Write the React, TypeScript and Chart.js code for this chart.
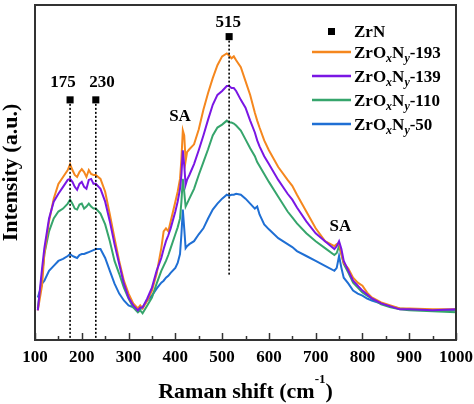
import { useEffect, useRef } from "react";
import { Chart, registerables } from "chart.js";

Chart.register(...registerables);

const FONT = "'Liberation Serif', 'Times New Roman', serif";

// Raman shift (cm-1) sample positions
const ramanShift = [
  106, 115, 120, 130, 140, 150, 160, 170, 175, 180, 185, 190, 195, 200, 205, 210, 215, 220, 225, 230,
  240, 250, 260, 270, 280, 290, 300, 310, 320, 325, 330, 340, 350, 360, 370, 375, 380, 385, 390, 400,
  405, 410, 413, 416, 419, 422, 425, 430, 440, 450, 460, 470, 480, 490, 500, 510, 515, 520, 525, 530,
  540, 550, 560, 570, 575, 580, 590, 600, 620, 640, 650, 660, 680, 700, 720, 740, 745, 750, 755, 760,
  770, 780, 790, 800, 810, 820, 840, 860, 880, 900, 950, 1000,
];

// Intensity (a.u.)
const zrox193 = [
  30, 55, 87, 120, 143, 158, 165, 172, 178, 172, 167, 165, 170, 173, 170, 165, 172, 168, 167, 167,
  163, 150, 127, 103, 80, 60, 47, 37, 32, 35, 32, 40, 50, 67, 93, 110, 113, 110, 120, 140,
  150, 163, 183, 212, 207, 181, 190, 193, 198, 213, 233, 250, 265, 278, 287, 290, 288, 285, 287, 283,
  276, 262, 248, 230, 222, 215, 202, 192, 175, 162, 156, 147, 130, 113, 100, 95, 97, 98, 87, 78,
  72, 63, 58, 55, 48, 43, 38, 35, 32, 32, 31, 31,
];
const zrox139 = [
  30, 72, 93, 123, 140, 148, 155, 162, 163, 160, 155, 152, 158, 160, 155, 153, 162, 163, 158, 158,
  153, 140, 120, 97, 77, 57, 43, 35, 30, 33, 33, 42, 53, 70, 83, 92, 100, 106, 113, 130,
  140, 153, 167, 192, 177, 157, 162, 167, 178, 192, 207, 223, 238, 248, 252, 257, 257, 255, 255, 252,
  243, 235, 222, 210, 202, 196, 186, 178, 162, 148, 142, 134, 120, 108, 100, 92, 95, 100, 92, 80,
  70, 60, 55, 50, 46, 42, 37, 34, 31, 31, 30, 31,
];
const zrox110 = [
  32, 65, 87, 110, 123, 130, 133, 138, 142, 138, 133, 132, 137, 138, 133, 135, 138, 135, 133, 133,
  128, 117, 100, 80, 67, 53, 42, 33, 28, 30, 27, 35, 43, 57, 70, 75, 80, 86, 93, 107,
  114, 123, 140, 163, 150, 135, 138, 143, 153, 167, 180, 193, 207, 215, 218, 222, 220, 220, 219, 217,
  212, 203, 194, 186, 180, 176, 168, 160, 145, 130, 124, 118, 108, 100, 93, 86, 88, 95, 87, 77,
  68, 58, 53, 48, 45, 42, 36, 33, 31, 30, 29, 28,
];
const zrox50 = [
  43, 57, 60, 70, 75, 80, 82, 85, 87, 85, 84, 83, 86, 87, 87, 88, 89, 90, 91, 92,
  92, 83, 70, 57, 47, 40, 35, 33, 32, 31, 33, 40, 45, 52, 58, 60, 63, 65, 68, 73,
  78, 87, 107, 132, 113, 93, 95, 97, 100, 107, 113, 123, 132, 138, 143, 147, 146, 147, 147, 148,
  147, 143, 138, 133, 135, 127, 117, 112, 103, 97, 94, 90, 85, 80, 75, 70, 73, 85, 73, 63,
  57, 50, 47, 45, 42, 40, 37, 34, 32, 31, 30, 30,
];

const seriesNames = ["193", "139", "110", "50"];
const seriesColors = ["#F5871E", "#7A16E4", "#36A56C", "#1F6FD4"];
const seriesOrder = [1, 0, 2, 3];

// ZrN reference peaks
const zrnPeaks = [175, 230, 515];
const zrnMarkY = [243, 243, 307];
const zrnLineEnd = [0, 0, 65];
const zrnLabelX = [160, 243, 513];
const zrnLabelY = [260, 260, 321];

// SA annotations
const saX = [410, 753];
const saY = [226, 115];

const xTicksMin = 100;
const xTicksMax = 1000;

export default function App() {
  const ref = useRef<HTMLCanvasElement>(null);

  useEffect(() => {
    document.body.style.margin = "0";
    const canvas = ref.current;
    if (!canvas) return;
    const allSeries = [zrox193, zrox139, zrox110, zrox50];

    const datasets: any[] = allSeries.map((vals, i) => ({
      type: "line",
      label: "ZrOxNy-" + seriesNames[i],
      data: ramanShift.map((x, j) => ({ x, y: vals[j] })),
      borderColor: seriesColors[i],
      borderWidth: 2,
      pointRadius: 0,
      tension: 0,
      fill: false,
      order: seriesOrder[i],
    }));

    zrnPeaks.forEach((p, i) => {
      datasets.push({
        type: "line",
        label: "guide" + p,
        data: [
          { x: p, y: zrnMarkY[i] },
          { x: p, y: zrnLineEnd[i] },
        ],
        borderColor: "#000",
        borderWidth: 1.6,
        borderDash: [2, 2],
        pointRadius: 0,
        order: -1,
      });
    });
    datasets.push({
      type: "line",
      label: "ZrN",
      data: zrnPeaks.map((p, i) => ({ x: p, y: zrnMarkY[i] })),
      showLine: false,
      pointStyle: "rect",
      pointRadius: 5,
      pointBorderWidth: 0,
      pointBackgroundColor: "#000",
      borderColor: "#000",
      order: -2,
    });

    const overlay = {
      id: "overlay",
      afterDraw(chart: any) {
        const { ctx, chartArea: a, scales } = chart;
        const xs = scales.x;
        const ys = scales.y;
        ctx.save();
        // frame
        ctx.strokeStyle = "#333";
        ctx.lineWidth = 2;
        ctx.strokeRect(a.left, a.top, a.right - a.left, a.bottom - a.top);
        // inward ticks
        ctx.lineWidth = 1.5;
        for (let v = xTicksMin; v <= xTicksMax; v += 50) {
          const px = Math.round(xs.getPixelForValue(v)) + 0.5;
          const len = v % 100 === 0 ? 7 : 4;
          ctx.beginPath();
          ctx.moveTo(px, a.bottom);
          ctx.lineTo(px, a.bottom - len);
          ctx.stroke();
        }
        // annotations
        ctx.fillStyle = "#000";
        ctx.font = `bold 17px ${FONT}`;
        ctx.textAlign = "center";
        ctx.textBaseline = "middle";
        zrnPeaks.forEach((p, i) => {
          ctx.fillText(String(p), xs.getPixelForValue(zrnLabelX[i]), ys.getPixelForValue(zrnLabelY[i]));
        });
        saX.forEach((sx, i) => {
          ctx.fillText("SA", xs.getPixelForValue(sx), ys.getPixelForValue(saY[i]));
        });

        // x title with superscript
        const main1 = "Raman shift (cm";
        const sup = "-1";
        const main2 = ")";
        ctx.textBaseline = "alphabetic";
        ctx.textAlign = "left";
        const fMain = `bold 22px ${FONT}`;
        const fSup = `bold 13px ${FONT}`;
        ctx.font = fMain;
        const w1 = ctx.measureText(main1).width;
        const w3 = ctx.measureText(main2).width;
        ctx.font = fSup;
        const w2 = ctx.measureText(sup).width;
        const cx = (a.left + a.right) / 2;
        let tx = cx - (w1 + w2 + w3) / 2;
        const base = 398;
        ctx.font = fMain;
        ctx.fillText(main1, tx, base);
        tx += w1;
        ctx.font = fSup;
        ctx.fillText(sup, tx, base - 15);
        tx += w2;
        ctx.font = fMain;
        ctx.fillText(main2, tx, base);

        // legend
        const lx0 = 312;
        const lx1 = 351;
        const textX = 354;
        // ZrN row
        ctx.fillRect(328, 28, 7, 7);
        ctx.font = `bold 17px ${FONT}`;
        ctx.fillText("ZrN", textX, 37);
        const rowY = [52, 76, 100, 124];
        rowY.forEach((ry, i) => {
          ctx.strokeStyle = seriesColors[i];
          ctx.lineWidth = 2.5;
          ctx.beginPath();
          ctx.moveTo(lx0, ry);
          ctx.lineTo(lx1, ry);
          ctx.stroke();
          const parts: [string, boolean][] = [
            ["ZrO", false],
            ["x", true],
            ["N", false],
            ["y", true],
            ["-" + seriesNames[i], false],
          ];
          let px = textX;
          const b = ry + 6;
          ctx.fillStyle = "#000";
          for (const [t, sub] of parts) {
            ctx.font = sub ? `italic bold 12px ${FONT}` : `bold 17px ${FONT}`;
            ctx.fillText(t, px, sub ? b + 4 : b);
            px += ctx.measureText(t).width;
          }
        });
        ctx.restore();
      },
    };

    const chart = new Chart(canvas, {
      type: "line",
      data: { datasets },
      options: {
        animation: false,
        responsive: false,
        layout: { padding: { top: 1, left: 0, right: 0, bottom: 0 } },
        plugins: { legend: { display: false }, tooltip: { enabled: false } },
        scales: {
          x: {
            type: "linear",
            min: xTicksMin,
            max: xTicksMax,
            grid: { display: false, drawTicks: false },
            border: { display: false },
            ticks: {
              stepSize: 100,
              padding: 7,
              color: "#000",
              font: { family: FONT, size: 17, weight: "bold" },
              maxRotation: 0,
              autoSkip: false,
              callback: (v: any) => String(v),
            },
            afterFit(scale: any) {
              scale.height = 64;
              scale.paddingLeft = 0;
              scale.paddingRight = 18;
            },
          },
          y: {
            min: 0,
            max: 339,
            grid: { display: false, drawTicks: false },
            border: { display: false },
            ticks: { display: false },
            title: {
              display: true,
              text: "Intensity (a.u.)",
              color: "#000",
              font: { family: FONT, size: 22, weight: "bold", lineHeight: 1 },
              padding: { top: 0, bottom: 0 },
            },
            afterFit(scale: any) {
              scale.width = 35;
              scale.paddingTop = 0;
              scale.paddingBottom = 0;
            },
          },
        },
      } as any,
      plugins: [overlay],
    });
    return () => chart.destroy();
  }, []);

  return (
    <div style={{ width: 474, height: 404 }}>
      <canvas ref={ref} width={474} height={404} style={{ display: "block" }} />
    </div>
  );
}
